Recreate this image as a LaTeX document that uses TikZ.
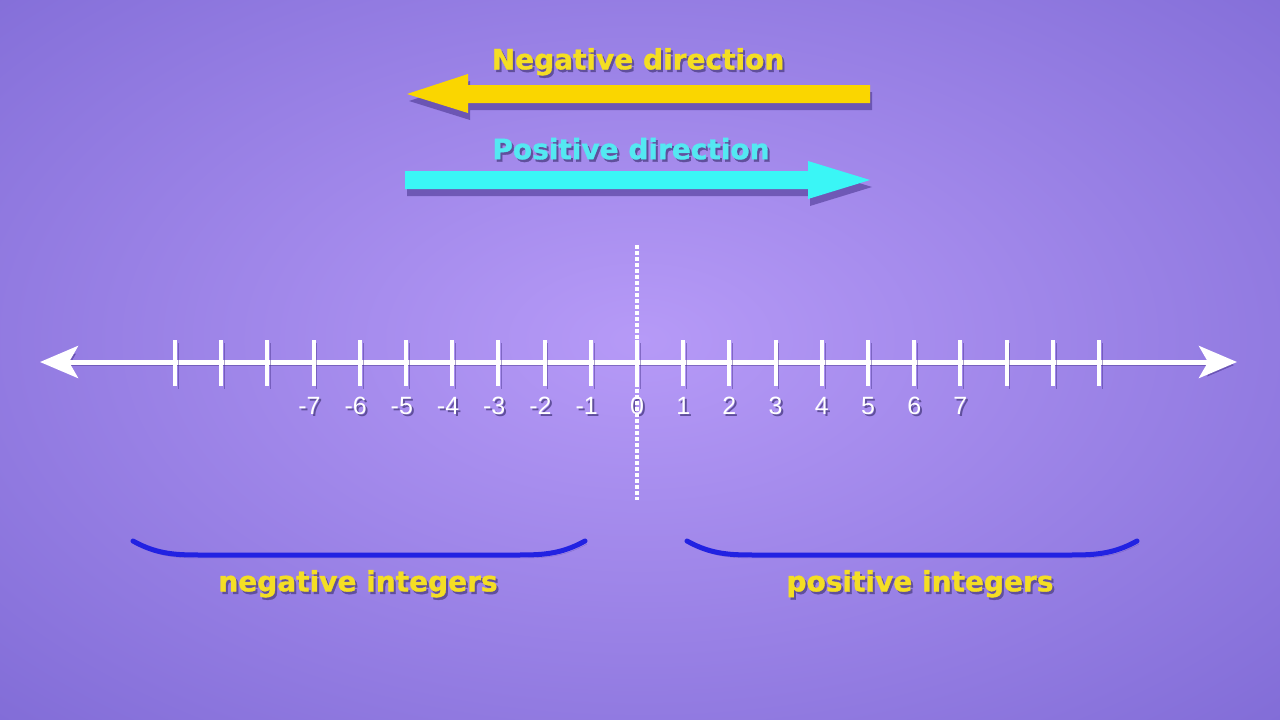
\documentclass[tikz,border=0pt]{standalone}
\usepackage{fontspec}
\usepackage{tikz}
\usetikzlibrary{arrows.meta, calc}

\newfontfamily\headfont{DejaVu Sans}[BoldFeatures={FakeBold=1.2}]
\newfontfamily\numfont{Liberation Sans}

\definecolor{bginner}{RGB}{182,154,247}
\definecolor{bgouter}{RGB}{108,90,202}
\definecolor{negyellow}{RGB}{250,214,0}
\definecolor{txtyellow}{RGB}{244,222,36}
\definecolor{poscyan}{RGB}{58,246,246}
\definecolor{txtcyan}{RGB}{84,232,242}
\definecolor{braceblue}{RGB}{34,34,226}
\definecolor{shadowpurple}{RGB}{68,48,138}

% text with a soft drop shadow
\newcommand{\shtext}[2]{{\color{shadowpurple!85}\rlap{\hspace{2pt}\raisebox{-2.5pt}{#2}}}{\color{#1}#2}}

\begin{document}
\begin{tikzpicture}[x=1pt, y=-1pt,
    numline/.style={white, line width=5pt, arrows={Stealth[length=38pt, width=32pt, inset=9pt]-Stealth[length=38pt, width=32pt, inset=9pt]},
        preaction={draw=shadowpurple, opacity=.45, transform canvas={shift={(3pt,-3pt)}}}},
    tickmark/.style={white, line width=4pt,
        preaction={draw=shadowpurple, opacity=.45, transform canvas={shift={(3pt,-3pt)}}}},
    zeroline/.style={white, line width=4pt, dash pattern=on 4pt off 2pt},
    dirarrow/.style={preaction={fill=shadowpurple, opacity=.55, transform canvas={shift={(2pt,-7pt)}}}},
    bracecurve/.style={braceblue, line width=5pt, line cap=round,
        preaction={draw=shadowpurple, opacity=.3, transform canvas={shift={(2pt,-3pt)}}}},
    numlab/.style={font=\numfont\fontsize{25}{25}\selectfont, inner sep=0pt},
    headlab/.style={font=\headfont\bfseries\fontsize{28}{30}\selectfont, inner sep=0pt}]

    % Background
    \useasboundingbox (0,0) rectangle (1280,720);
    \begin{scope}
        \clip (0,0) rectangle (1280,720);
        \fill[bgouter] (0,0) rectangle (1280,720);
        \shade[inner color=bginner, outer color=bgouter] (640,340) ellipse [x radius=1300, y radius=760];
    \end{scope}

    % Negative direction arrow
    \fill[negyellow, dirarrow] (870,85) -- (468,85) -- (468,74) -- (407,94) -- (468,113) -- (468,103) -- (870,103) -- cycle;
    \node[headlab] (negtxt) at (638,63) {\shtext{txtyellow}{Negative direction}};

    % Positive direction arrow
    \fill[poscyan, dirarrow] (405,171) -- (808,171) -- (808,161) -- (870,180) -- (808,199) -- (808,189) -- (405,189) -- cycle;
    \node[headlab] (postxt) at (631,150) {\shtext{txtcyan}{Positive direction}};

    % Number line
    \coordinate (west) at (40,362);
    \coordinate (east) at (1237,362);
    \draw[numline] (west) -- (east);
    \foreach \i in {-10,...,10}
        \draw[tickmark] ({637+46.2*\i},340) -- ++(0,46);

    % Labels
    \foreach \i in {-7,...,7}
        \node[numlab] (n\i) at ({637+46.2*\i},407) {\shtext{white}{\ifnum\i<0 \llap{-}\the\numexpr-\i\relax\else\i\fi}};

    % Dashed line through zero
    \draw[zeroline] (637,245) -- (637,500);

    % Braces
    \draw[bracecurve] (133,541) .. controls (158,555) and (178,555) .. (203,555) -- (515,555) .. controls (540,555) and (560,555) .. (585,541);
    \draw[bracecurve] (687,541) .. controls (712,555) and (732,555) .. (757,555) -- (1067,555) .. controls (1092,555) and (1112,555) .. (1137,541);
    \node[headlab] (neglab) at (358,585) {\shtext{txtyellow}{negative integers}};
    \node[headlab] (poslab) at (920,585) {\shtext{txtyellow}{positive integers}};
\end{tikzpicture}
\end{document}
